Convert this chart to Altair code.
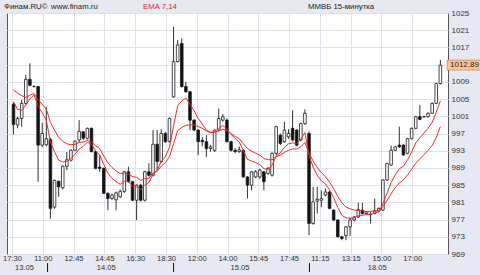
import altair as alt
import pandas as pd

# ---------------- data ----------------
opens = [1003.8, 999.0, 1000.5, 1004.0, 1009.6, 1007.9, 1007.9, 994.3, 994.4, 995.6,
 979.9, 985.9, 984.4, 989.4, 990.8, 993.1, 995.5, 997.4, 995.9, 998.2,
 992.8, 989.2, 988.9, 983.1, 981.9, 981.6, 982.3, 983.5, 988.1, 985.8,
 981.5, 985.0, 981.5, 988.1, 987.3, 994.5, 990.5, 997.0, 995.1, 1005.5,
 1013.7, 1017.9, 1007.9, 1006.7, 1000.1, 997.8, 995.4, 995.1, 993.5, 993.1,
 997.8, 1000.1, 1000.1, 995.1, 993.1, 992.8, 993.1, 986.9, 985.0, 986.9,
 986.9, 988.1, 987.7, 987.3, 992.4, 996.6, 995.1, 996.2, 998.2, 997.8,
 995.5, 999.3, 997.0, 976.1, 981.3, 981.5, 982.7, 983.4, 979.2, 976.9,
 973.0, 973.3, 975.3, 976.9, 977.6, 979.2, 978.4, 978.2, 978.4, 979.0,
 979.2, 986.2, 989.7, 993.1, 994.3, 994.3, 992.4, 995.8, 998.2, 1000.9,
 1000.9, 1000.9, 1001.7, 1004.0, 1008.6]

highs = [1004.2, 1000.9, 1004.8, 1010.6, 1013.3, 1008.2, 1008.0, 999.5, 1003.2, 996.0,
 986.3, 986.0, 989.6, 992.7, 993.3, 995.4, 1000.1, 997.6, 998.4, 998.4,
 993.0, 991.9, 989.1, 983.3, 983.0, 983.5, 984.0, 988.3, 989.3, 986.0,
 985.2, 985.3, 988.3, 990.1, 997.8, 997.8, 998.0, 997.4, 1000.7, 1021.8,
 1018.7, 1019.1, 1009.0, 1006.9, 1000.3, 998.0, 996.2, 996.6, 994.3, 997.9,
 1002.8, 1001.5, 1000.5, 995.3, 993.6, 994.0, 993.3, 987.1, 988.3, 988.5,
 988.8, 988.3, 989.2, 992.6, 998.8, 997.0, 999.7, 998.0, 1002.4, 998.0,
 999.5, 1002.6, 997.5, 984.6, 984.6, 983.8, 984.2, 983.6, 979.4, 977.1,
 973.2, 975.5, 977.5, 977.8, 980.9, 980.9, 979.0, 978.8, 981.9, 979.8,
 986.4, 990.2, 994.2, 994.1, 998.6, 994.5, 996.0, 998.4, 1001.1, 1003.6,
 1001.1, 1001.9, 1004.2, 1008.8, 1014.1]

lows = [996.8, 998.2, 998.6, 1003.8, 1008.0, 1007.7, 985.8, 993.8, 994.0, 977.2,
 979.5, 982.3, 984.0, 988.5, 990.5, 992.9, 995.0, 995.5, 995.6, 992.6,
 988.7, 988.1, 983.0, 979.2, 981.5, 979.2, 982.0, 983.2, 985.6, 981.3,
 976.9, 981.2, 981.2, 987.0, 987.0, 988.5, 990.2, 994.8, 994.9, 1005.3,
 1013.5, 1007.7, 1006.5, 997.8, 997.5, 992.0, 994.0, 991.6, 992.8, 992.7,
 997.5, 999.8, 994.9, 992.8, 992.4, 992.5, 986.7, 981.9, 983.8, 986.6,
 986.5, 983.8, 987.4, 987.0, 992.0, 994.4, 994.8, 995.8, 995.2, 994.0,
 995.2, 999.0, 973.4, 975.8, 978.4, 979.9, 982.4, 979.4, 976.7, 972.8,
 972.2, 972.2, 973.2, 976.6, 977.4, 978.2, 978.2, 976.1, 978.2, 978.7,
 979.0, 986.0, 989.5, 992.9, 993.7, 991.8, 992.2, 995.6, 998.0, 1000.1,
 1000.7, 1000.7, 1001.5, 1003.8, 1008.4]

closes = [999.1, 1000.5, 1004.0, 1009.6, 1008.2, 1007.9, 994.3, 997.0, 995.8, 979.6,
 986.1, 984.6, 989.4, 990.9, 993.1, 995.2, 997.5, 995.9, 998.2, 992.8,
 988.9, 988.9, 983.1, 981.9, 982.7, 983.2, 983.5, 988.1, 985.8, 981.5,
 985.0, 981.5, 988.1, 987.3, 994.5, 990.5, 997.0, 995.1, 1000.5, 1013.7,
 1017.6, 1007.9, 1006.7, 1000.1, 997.8, 995.1, 995.1, 993.5, 993.9, 997.8,
 1000.5, 1000.9, 995.1, 993.1, 992.8, 993.2, 986.9, 985.0, 988.1, 988.1,
 988.5, 985.8, 988.9, 992.4, 998.6, 994.7, 997.8, 997.0, 995.5, 994.3,
 999.3, 1001.7, 976.1, 981.1, 981.7, 981.9, 983.4, 979.6, 976.9, 973.0,
 972.6, 975.3, 976.9, 977.6, 979.3, 978.4, 978.8, 978.2, 979.0, 979.6,
 986.2, 990.0, 993.1, 993.9, 993.9, 992.0, 995.8, 998.2, 1000.9, 1000.3,
 1000.9, 1001.7, 1004.0, 1008.6, 1012.89]

ema7 = [1004.4, 1002.6, 1002.4, 1003.6, 1005.0, 1006.0, 1003.4, 1001.8, 1000.1, 995.0,
 992.8, 990.8, 990.4, 990.5, 991.2, 992.2, 993.4, 994.0, 995.0, 994.5,
 993.0, 992.0, 989.8, 987.8, 986.6, 985.8, 985.2, 985.9, 985.9, 984.7,
 984.6, 984.0, 985.0, 985.6, 987.6, 988.4, 990.5, 991.6, 993.8, 998.8,
 1003.4, 1004.6, 1005.2, 1003.8, 1002.3, 1000.5, 999.2, 997.8, 997.3, 997.4,
 998.2, 998.9, 998.0, 996.8, 995.8, 995.0, 993.0, 991.0, 990.6, 990.2,
 989.8, 988.8, 988.7, 989.6, 991.8, 992.5, 993.8, 994.6, 994.8, 994.7,
 995.7, 997.2, 991.9, 989.2, 987.3, 986.0, 985.3, 983.9, 982.1, 979.8,
 978.0, 977.4, 977.3, 977.4, 977.9, 978.0, 978.2, 978.2, 978.5, 978.8,
 980.7, 983.1, 985.6, 987.4, 988.8, 989.4, 990.9, 992.7, 994.8, 996.0,
 997.1, 998.2, 999.6, 1001.9, 1004.6]

ema14 = [1007.1, 1006.4, 1005.8, 1005.4, 1005.9, 1006.3, 1004.8, 1003.8, 1002.7, 999.6,
 997.8, 996.1, 995.2, 994.6, 994.4, 994.5, 994.9, 995.0, 995.4, 995.0,
 994.2, 993.5, 991.8, 990.2, 989.1, 988.3, 987.7, 987.8, 987.6, 987.0,
 986.8, 986.1, 986.5, 986.6, 987.8, 988.2, 989.4, 990.2, 991.6, 994.6,
 997.7, 998.4, 998.9, 999.0, 999.0, 998.6, 998.2, 997.6, 997.2, 997.3,
 997.6, 998.0, 997.6, 997.0, 996.3, 995.8, 994.6, 993.5, 992.9, 992.4,
 992.0, 991.2, 990.9, 990.9, 991.6, 992.0, 992.6, 993.1, 993.4, 993.4,
 993.9, 994.9, 992.4, 990.6, 989.1, 987.9, 987.0, 985.7, 984.2, 982.4,
 980.9, 979.9, 979.5, 979.2, 979.1, 979.0, 978.9, 978.9, 979.0, 979.1,
 980.0, 981.4, 983.0, 984.4, 985.5, 986.2, 987.4, 988.7, 990.1, 991.1,
 992.1, 993.1, 994.2, 996.1, 998.6]

time_labels = ["17:30", "11:00", "12:45", "14:45", "16:30", "18:30", "12:00",
               "14:00", "15:45", "17:45", "11:15", "13:15", "15:00", "17:00"]
time_ticks = [-0.36, 7.14, 14.64, 22.14, 29.64, 37.14, 44.64,
              52.14, 59.64, 67.14, 74.64, 82.14, 89.64, 97.14]
date_labels = ["13.05", "14.05", "15.05", "18.05"]
date_pos = [2.7, 22.6, 55.2, 88.6]
day_sep = [8.3, 39.0, 72.1]
y_ticks = [969, 973, 977, 981, 985, 989, 993, 997, 1001, 1005, 1009, 1013, 1017, 1021, 1025]
last_price = 1012.89

# ---------------- chart ----------------
FONT = "Liberation Sans"
df = pd.DataFrame({
    "idx": list(range(len(opens))),
    "open": opens, "high": highs, "low": lows, "close": closes,
    "ema7": ema7, "ema14": ema14,
})

xscale = alt.Scale(domain=[-0.36, 104.64], nice=False, zero=False)
yscale = alt.Scale(domain=[969, 1025], nice=False, zero=False)

label_arr = "[" + ",".join("'%s'" % t for t in time_labels) + "]"

xaxis = alt.Axis(values=time_ticks, title=None, grid=True, gridColor="#dde1ec",
                 gridWidth=1, ticks=False, domain=False, labelFont=FONT,
                 labelFontSize=7.6, labelColor="#333333", labelPadding=0,
                 labelFlush=False, labelOverlap=False,
                 labelExpr=label_arr + "[round((datum.value + 0.36) / 7.5)]")
yaxis = alt.Axis(orient="right", values=y_ticks, title=None, grid=True, format="d",
                 gridColor="#dde1ec", gridWidth=1, ticks=False, domain=False,
                 labelFont=FONT, labelFontSize=8, labelColor="#333333",
                 labelPadding=3, labelFlush=False, labelOverlap=False,
                 labelExpr="datum.value == 1013 ? '' : datum.label")

X = lambda f: alt.X(f, scale=xscale, axis=xaxis)
Y = lambda f: alt.Y(f, scale=yscale, axis=yaxis)

base = alt.Chart(df)

wicks = base.mark_rule(color="#1a1a1a", strokeWidth=0.9).encode(
    x=X("idx:Q"), y=Y("low:Q"), y2="high:Q",
)

bodies = base.mark_bar(size=2.6, stroke="#1a1a1a", strokeWidth=0.8).encode(
    x=X("idx:Q"), y=Y("open:Q"), y2="close:Q",
    fill=alt.condition("datum.close >= datum.open", alt.value("white"), alt.value("#111111")),
)

line7 = base.mark_line(color="#f02828", strokeWidth=1).encode(x=X("idx:Q"), y=Y("ema7:Q"))
line14 = base.mark_line(color="#f02828", strokeWidth=1).encode(x=X("idx:Q"), y=Y("ema14:Q"))

price_df = pd.DataFrame({"p": [last_price], "t": ["1012,89"]})
price_box = alt.Chart(price_df).mark_rect(
    fill="#f9c49c", stroke="#d98a55", strokeWidth=0.8, yOffset=-5, y2Offset=5
).encode(
    x=alt.value(440), x2=alt.value(475), y=Y("p:Q"), y2="p:Q",
)
price_txt = alt.Chart(price_df).mark_text(
    align="left", baseline="middle", font=FONT, fontSize=8, color="#222222"
).encode(
    x=alt.value(443), y=Y("p:Q"), text="t:N",
)

sep_df = pd.DataFrame({"s": day_sep})
seps = alt.Chart(sep_df).mark_rule(color="#111111", strokeWidth=1).encode(
    x=X("s:Q"), y=alt.value(250), y2=alt.value(259),
)

date_df = pd.DataFrame({"d": date_pos, "t": date_labels})
dates = alt.Chart(date_df).mark_text(
    align="center", baseline="alphabetic", font=FONT, fontSize=7.6, color="#333333"
).encode(
    x=X("d:Q"), y=alt.value(256.5), text="t:N",
)

title_df = pd.DataFrame({
    "t": ["Финам.RU©", "www.finam.ru", "EMA 7,14", "ММВБ 15-минутка"],
    "px": [-3, 44, 136, 301],
    "c": ["#222222", "#222222", "#e8202a", "#222222"],
})
titles = alt.Chart(title_df).mark_text(
    align="left", baseline="middle", font=FONT, fontSize=7.8
).encode(
    x=alt.X("px:Q", scale=None, axis=None),
    y=alt.value(-6),
    text="t:N",
    color=alt.Color("c:N", scale=None, legend=None),
)

chart = alt.layer(wicks, bodies, line14, line7, seps, dates, price_box, price_txt, titles).properties(
    width=441, height=241,
    padding={"left": 7, "top": 13, "right": 32, "bottom": 21},
    autosize=alt.AutoSizeParams(type="none"),
    background="#e6e9f1",
).configure_view(stroke="#555555", fill="white")

chart.save("out.html", embed_options={"renderer": "svg", "actions": False})
